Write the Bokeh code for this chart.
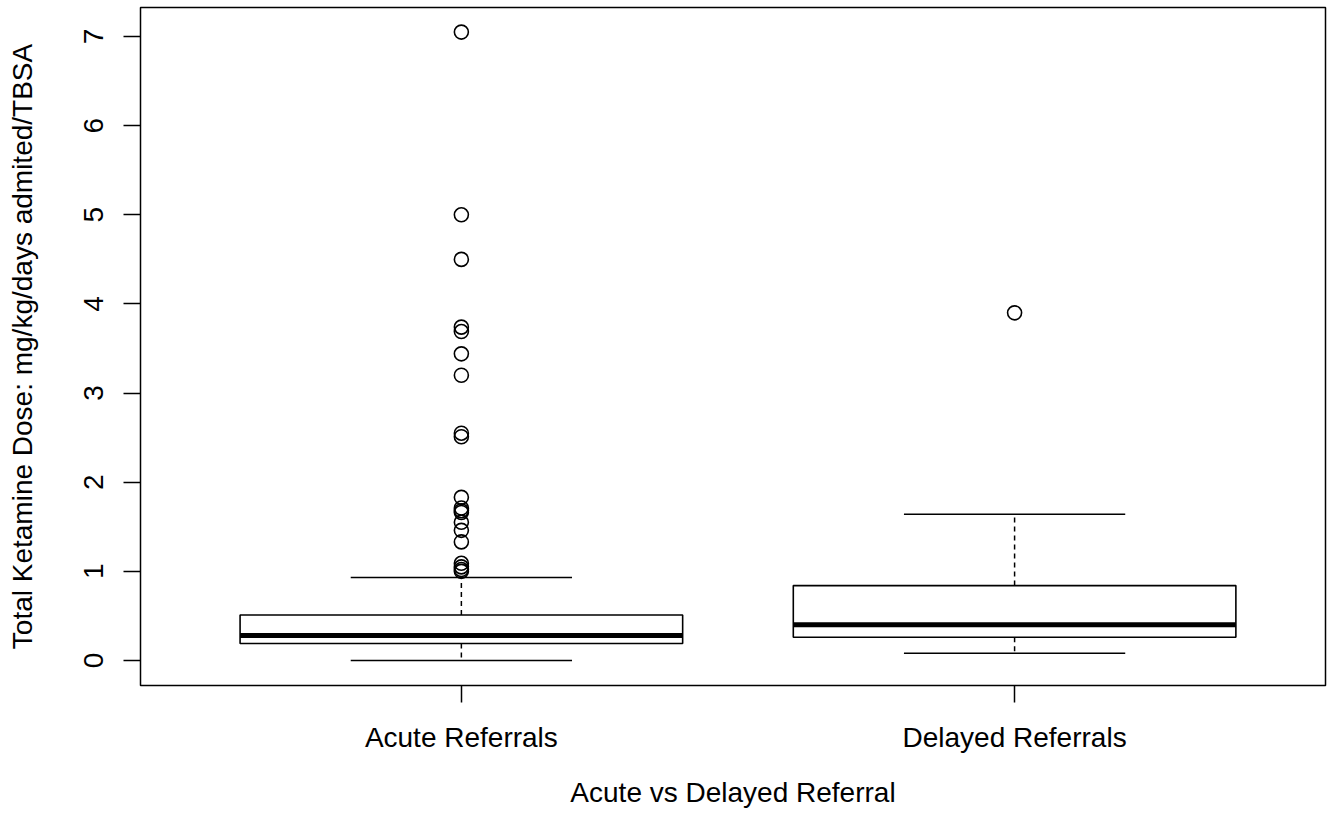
from bokeh.plotting import figure
from bokeh.models import Range1d, FixedTicker, ColumnDataSource
from bokeh.embed import file_html
from bokeh.resources import INLINE

groups = ["Acute Referrals", "Delayed Referrals"]
positions = [1, 2]
q1 = [0.19, 0.26]
median = [0.28, 0.40]
q3 = [0.51, 0.84]
lower_whisker = [0.0, 0.08]
upper_whisker = [0.93, 1.64]
acute_outliers = [7.05, 5.0, 4.5, 3.74, 3.69, 3.44, 3.20, 2.55, 2.51, 1.83,
                  1.71, 1.68, 1.66, 1.55, 1.46, 1.33, 1.09, 1.05, 1.02, 1.0]
delayed_outliers = [3.90]
y_ticks = [0, 1, 2, 3, 4, 5, 6, 7]

FONT = "Liberation Sans"
FS = "28px"

p = figure(width=1327, height=811, output_backend="svg", toolbar_location=None,
           x_range=Range1d(0.42, 2.562), y_range=Range1d(-0.281, 7.326),
           min_border_left=140, min_border_right=2, min_border_top=7,
           min_border_bottom=126)
p.background_fill_color = "white"
p.border_fill_color = "white"
p.outline_line_color = "black"
p.outline_line_width = 1.5
p.xgrid.visible = False
p.ygrid.visible = False

box_w = 0.8
cap_w = 0.4
src = ColumnDataSource(dict(
    pos=positions,
    left=[x - box_w / 2 for x in positions],
    right=[x + box_w / 2 for x in positions],
    cl=[x - cap_w / 2 for x in positions],
    cr=[x + cap_w / 2 for x in positions],
    q1=q1, q3=q3, med=median, lo=lower_whisker, hi=upper_whisker,
))

# whiskers
p.segment(x0="pos", x1="pos", y0="q3", y1="hi", source=src, line_color="black",
          line_width=1.5, line_dash="5 4")
p.segment(x0="pos", x1="pos", y0="q1", y1="lo", source=src, line_color="black",
          line_width=1.5, line_dash="5 4")
# caps
p.segment(x0="cl", x1="cr", y0="hi", y1="hi", source=src, line_color="black", line_width=1.6)
p.segment(x0="cl", x1="cr", y0="lo", y1="lo", source=src, line_color="black", line_width=1.6)
# boxes
p.quad(left="left", right="right", bottom="q1", top="q3", source=src,
       fill_color="white", line_color="black", line_width=1.6)
# medians
p.segment(x0="left", x1="right", y0="med", y1="med", source=src, line_color="black", line_width=5)

# outliers
ox = [positions[0]] * len(acute_outliers) + [positions[1]] * len(delayed_outliers)
oy = acute_outliers + delayed_outliers
p.scatter(ox, oy, marker="circle", size=14, fill_color=None, line_color="black", line_width=1.6)

# axes
xa = p.xaxis[0]
xa.ticker = FixedTicker(ticks=positions)
xa.major_label_overrides = {positions[i]: groups[i] for i in range(len(groups))}
xa.axis_label = "Acute vs Delayed Referral"

ya = p.yaxis[0]
ya.ticker = FixedTicker(ticks=y_ticks)
ya.axis_label = "Total Ketamine Dose: mg/kg/days admited/TBSA"
ya.major_label_orientation = "vertical"

for ax in (xa, ya):
    ax.axis_line_color = None
    ax.major_tick_line_color = "black"
    ax.major_tick_line_width = 1.5
    ax.major_tick_out = 17
    ax.major_tick_in = 0
    ax.minor_tick_line_color = None
    ax.major_label_text_font = FONT
    ax.major_label_text_font_size = FS
    ax.major_label_text_color = "black"
    ax.axis_label_text_font = FONT
    ax.axis_label_text_font_size = FS
    ax.axis_label_text_font_style = "normal"
    ax.axis_label_text_color = "black"

xa.major_label_standoff = 19
xa.axis_label_standoff = 21
ya.major_label_standoff = 20
ya.axis_label_standoff = 44

open("out.html", "w").write(file_html(p, INLINE))
